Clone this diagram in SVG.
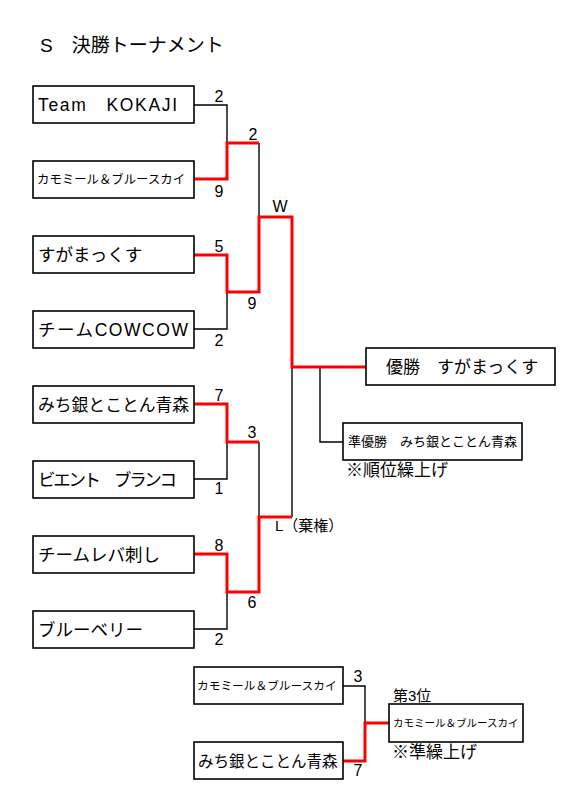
<svg xmlns="http://www.w3.org/2000/svg" width="584" height="800" viewBox="0 0 584 800">
<style>
text{font-family:"Liberation Sans","Noto Sans CJK JP",sans-serif;fill:#000}
.box{fill:#fff;stroke:#000;stroke-width:1.6}
.blk{fill:none;stroke:#000;stroke-width:1.4}
.red{fill:none;stroke:#f00;stroke-width:3;stroke-linejoin:miter}
.n{font-size:16px;text-anchor:middle}
.t{font-size:17.5px}
</style>
<rect width="584" height="800" fill="#fff"/>
<text x="40" y="52" style="font-size:19px">S　決勝トーナメント</text>
<g id="connectors">
<path class="blk" d="M194,105H227V179"/>
<path class="blk" d="M194,329H227V292"/>
<path class="blk" d="M194,479H227V442"/>
<path class="blk" d="M194,629H227V592"/>
<path class="blk" d="M259,143V217"/>
<path class="blk" d="M259,442V517"/>
<path class="blk" d="M292,367V517"/>
<path class="blk" d="M320,367V442H343"/>
<path class="blk" d="M343,686H365V723"/>
<path class="red" d="M194,179H227V143H259"/>
<path class="red" d="M194,255H227V292H259V217H292V367H366"/>
<path class="red" d="M194,404H227V442H259"/>
<path class="red" d="M194,554H227V592H259V517H292"/>
<path class="red" d="M343,761H365V723H389"/>
</g>
<g id="scores">
<text class="n" x="219" y="102">2</text>
<text class="n" x="219" y="197">9</text>
<text class="n" x="253" y="140">2</text>
<text class="n" x="219" y="252">5</text>
<text class="n" x="219" y="346">2</text>
<text class="n" x="252" y="309">9</text>
<text class="n" x="280" y="212">W</text>
<text class="n" x="219" y="401">7</text>
<text class="n" x="219" y="494">1</text>
<text class="n" x="252" y="438">3</text>
<text class="n" x="219" y="551">8</text>
<text class="n" x="219" y="645">2</text>
<text class="n" x="252" y="608">6</text>
<text x="275" y="531" style="font-size:15px">L（棄権）</text>
<text class="n" x="358" y="682">3</text>
<text class="n" x="358" y="776">7</text>
</g>
<g id="n1"><rect class="box" x="33" y="86" width="161" height="37"/><text class="t" x="38" y="111" textLength="139" lengthAdjust="spacing">Team　KOKAJI</text></g>
<g id="n2"><rect class="box" x="33" y="161" width="161" height="37"/><text x="37" y="184" style="font-size:12.4px">カモミール＆ブルースカイ</text></g>
<g id="n3"><rect class="box" x="33" y="236" width="161" height="37"/><text class="t" x="38" y="261">すがまっくす</text></g>
<g id="n4"><rect class="box" x="33" y="311" width="161" height="37"/><text class="t" x="38" y="336" textLength="150" lengthAdjust="spacing">チームCOWCOW</text></g>
<g id="n5"><rect class="box" x="33" y="386" width="161" height="37"/><text x="38" y="411" style="font-size:16.8px">みち銀とことん青森</text></g>
<g id="n6"><rect class="box" x="33" y="461" width="161" height="37"/><text class="t" x="38" y="486" textLength="139" lengthAdjust="spacing">ビエント　ブランコ</text></g>
<g id="n7"><rect class="box" x="33" y="536" width="161" height="37"/><text class="t" x="38" y="561">チームレバ刺し</text></g>
<g id="n8"><rect class="box" x="33" y="611" width="161" height="37"/><text class="t" x="38" y="636">ブルーベリー</text></g>
<g id="winner"><rect class="box" x="366" y="348" width="189" height="37"/><text x="386" y="373" style="font-size:17px">優勝　すがまっくす</text></g>
<g id="runnerup"><rect class="box" x="343" y="423" width="179" height="37"/><text x="348" y="446" style="font-size:13px">準優勝　みち銀とことん青森</text></g>
<text x="346" y="476" style="font-size:17px">※順位繰上げ</text>
<g id="t1"><rect class="box" x="194" y="667" width="149" height="37"/><text x="197" y="690" style="font-size:11.7px">カモミール＆ブルースカイ</text></g>
<g id="t2"><rect class="box" x="194" y="742" width="149" height="37"/><text x="198" y="767" style="font-size:15.5px">みち銀とことん青森</text></g>
<g id="third"><rect class="box" x="389" y="704" width="134" height="38"/><text x="393" y="727" style="font-size:10.5px">カモミール＆ブルースカイ</text></g>
<text x="393" y="701" style="font-size:15px">第3位</text>
<text x="392" y="758" style="font-size:17px">※準繰上げ</text>
</svg>
